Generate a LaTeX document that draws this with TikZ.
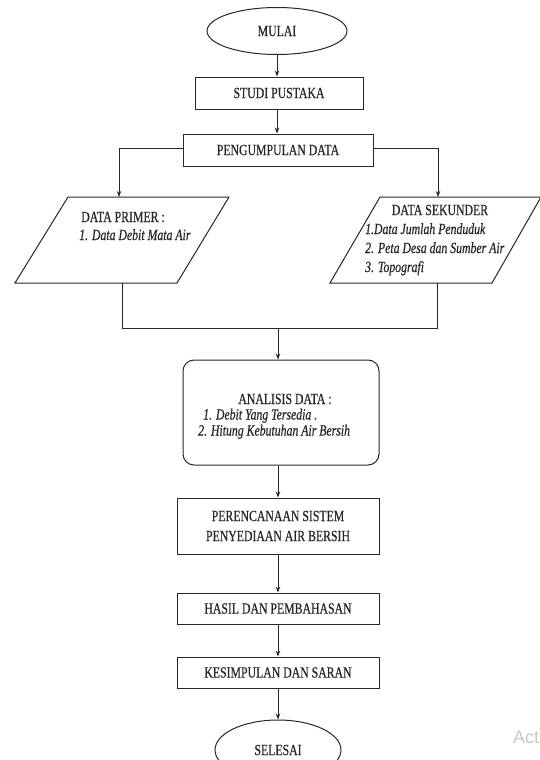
\documentclass[tikz,border=0pt]{standalone}
\usepackage{fontspec}
\setmainfont{Liberation Serif}[FakeStretch=0.76,FakeBold=0.5]
\setsansfont{Liberation Sans}
\usetikzlibrary{shapes.geometric,arrows.meta}
\definecolor{ink}{HTML}{262626}
\tikzset{
  every node/.style={text=ink,font=\fontsize{15.5}{19}\selectfont},
  ln/.style={draw=ink,line width=1pt},
  arr/.style={ln,-{Stealth[length=6pt,width=4.5pt]}},
  boxnode/.style={ln,rectangle,inner sep=0pt},
  term/.style={ln,ellipse,inner sep=0pt},
  lst/.style={anchor=base west,inner sep=0pt,font=\fontsize{15.5}{19}\selectfont\itshape},
}
\begin{document}
\begin{tikzpicture}[x=1pt,y=-1pt]
\useasboundingbox (0,0) rectangle (540,760);
% terminals and boxes
\node[term,minimum width=140pt,minimum height=47pt] (mulai) at (277,31) {MULAI};
\node[boxnode,minimum width=168pt,minimum height=32pt] (studi) at (279,93) {STUDI PUSTAKA};
\node[boxnode,minimum width=190pt,minimum height=32pt] (kumpul) at (278,150) {PENGUMPULAN DATA};
% parallelograms
\draw[ln] (68,197) -- (229,197) -- (177,283) -- (15,283) -- cycle;
\draw[ln] (380,197) -- (541,197) -- (492,283) -- (330,283) -- cycle;
\coordinate (ptop) at (119,197);
\coordinate (stop) at (438,197);
\coordinate (pbot) at (122,283);
\coordinate (sbot) at (437,283);
\node[inner sep=0pt] (primer) at (123,217) {DATA PRIMER :};
\node[lst] (primer1) at (79,240) {1. Data Debit Mata Air};
\node[inner sep=0pt] (sekunder) at (440,210) {DATA SEKUNDER};
\node[lst] (sek1) at (365,234) {1.Data Jumlah Penduduk};
\node[lst] (sek2) at (365,253) {2. Peta Desa dan Sumber Air};
\node[lst] (sek3) at (365,272) {3. Topografi};
% analysis
\node[ln,rectangle,rounded corners=11pt,minimum width=196pt,minimum height=105pt,inner sep=0pt] (analisis) at (281,412.5) {};
\node[inner sep=0pt] (antitle) at (285,399) {ANALISIS DATA :};
\node[lst] (an1) at (203,419.5) {1. Debit Yang Tersedia .};
\node[lst] (an2) at (198,435.5) {2. Hitung Kebutuhan Air Bersih};
% lower boxes
\node[boxnode,minimum width=202pt,minimum height=56pt,align=center] (rencana) at (278,526) {PERENCANAAN SISTEM\\[1pt]PENYEDIAAN AIR BERSIH};
\node[boxnode,minimum width=202pt,minimum height=31pt] (hasil) at (278,608.5) {HASIL DAN PEMBAHASAN};
\node[boxnode,minimum width=202pt,minimum height=31pt] (simpul) at (278,672.5) {KESIMPULAN DAN SARAN};
\node[term,minimum width=126pt,minimum height=60pt] (selesai) at (278,750) {SELESAI};
% connectors
\draw[arr] (mulai.south) -- (mulai.south |- studi.north);
\draw[arr] (studi.south -| mulai.south) -- (mulai.south |- kumpul.north);
\draw[arr] (kumpul.west |- 0,148) -| (ptop);
\draw[arr] (kumpul.east |- 0,148) -| (stop);
\coordinate (join) at (278,328);
\draw[ln] (pbot) |- (join);
\draw[ln] (sbot) |- (join);
\draw[arr] (join) -- (join |- analisis.north);
\draw[arr] (join |- analisis.south) -- (join |- rencana.north);
\draw[arr] (rencana.south) -- (hasil.north);
\draw[arr] (hasil.south) -- (simpul.north);
\draw[arr] (simpul.south) -- (selesai.north);
% watermark
\node[anchor=west,inner sep=0pt,text=black!22,font=\sffamily\fontsize{18}{20}\selectfont] (wm) at (513,737) {Act};
\end{tikzpicture}
\end{document}
